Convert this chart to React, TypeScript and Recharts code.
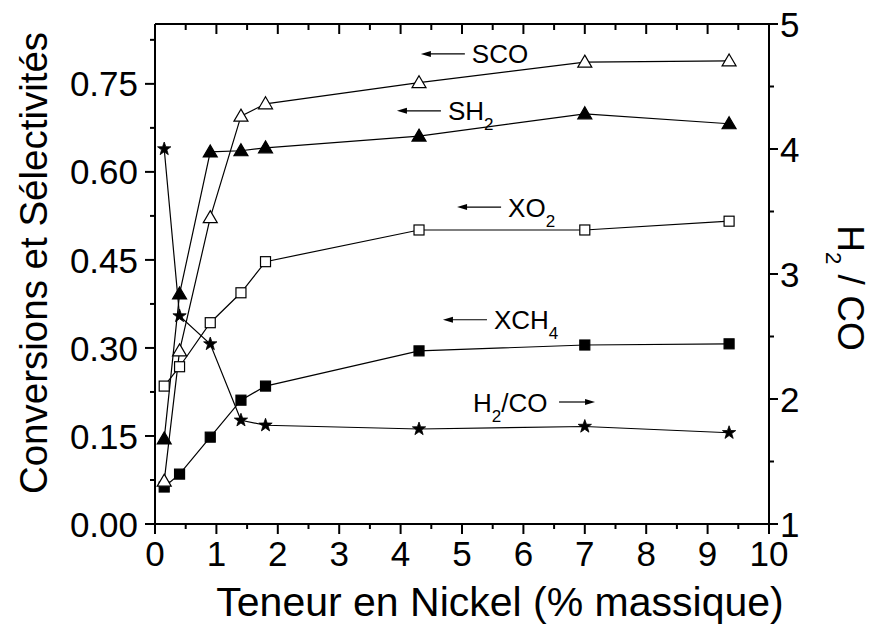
import React from "react";
import { LineChart, Line, XAxis, YAxis, ReferenceDot } from "recharts";

// Teneur en nickel (% massique)
const nickel = [0.15, 0.4, 0.9, 1.4, 1.8, 4.3, 7.0, 9.35];
// left axis series
const sco = [0.073, 0.295, 0.522, 0.695, 0.716, 0.752, 0.787, 0.789];
const sh2 = [0.145, 0.392, 0.634, 0.636, 0.641, 0.661, 0.699, 0.682];
const xo2 = [0.235, 0.268, 0.343, 0.394, 0.447, 0.501, 0.501, 0.516];
const xch4 = [0.063, 0.085, 0.148, 0.211, 0.235, 0.295, 0.305, 0.307];
// right axis series
const h2co = [4.0, 2.664, 2.44, 1.83, 1.79, 1.76, 1.78, 1.73];

const xTicks = [0, 0.5, 1, 1.5, 2, 2.5, 3, 3.5, 4, 4.5, 5, 5.5, 6, 6.5, 7, 7.5, 8, 8.5, 9, 9.5, 10];
const leftTicks = [0, 0.075, 0.15, 0.225, 0.3, 0.375, 0.45, 0.525, 0.6, 0.675, 0.75, 0.825];
const leftMajor = [0, 0.15, 0.3, 0.45, 0.6, 0.75];
const rightTicks = [1, 1.5, 2, 2.5, 3, 3.5, 4, 4.5, 5];

const data = nickel.map((x, i) => ({
  x, sco: sco[i], sh2: sh2[i], xo2: xo2[i], xch4: xch4[i], h2co: h2co[i],
}));

const FONT = '"Liberation Sans", Arial, Helvetica, sans-serif';
const W = 873;
const H = 630;
const PLOT = { left: 155, right: 769, top: 24, bottom: 524 };
const TICK_FONT = 35;

const isMajorLeft = (v: number) => leftMajor.some((m) => Math.abs(m - v) < 1e-9);

function BottomTick(props: any) {
  const { x, payload } = props;
  const v = payload.value;
  const major = Number.isInteger(v);
  return (
    <g>
      <line x1={x} x2={x} y1={PLOT.bottom} y2={PLOT.bottom + (major ? 10 : 5)} stroke="#000" strokeWidth={2} />
      {major && (
        <text x={x} y={566} textAnchor="middle" fontSize={TICK_FONT} fontFamily={FONT} fill="#000">{v}</text>
      )}
    </g>
  );
}

function TopTick(props: any) {
  const { x, payload } = props;
  const major = Number.isInteger(payload.value);
  return <line x1={x} x2={x} y1={PLOT.top} y2={PLOT.top + (major ? 10 : 6)} stroke="#000" strokeWidth={2} />;
}

function LeftTick(props: any) {
  const { y, payload } = props;
  const v = payload.value;
  const major = isMajorLeft(v);
  return (
    <g>
      <line x1={PLOT.left} x2={PLOT.left - (major ? 10 : 5)} y1={y} y2={y} stroke="#000" strokeWidth={2} />
      {major && (
        <text x={PLOT.left - 17} y={y} dy="0.36em" textAnchor="end" fontSize={TICK_FONT} fontFamily={FONT} fill="#000">
          {v.toFixed(2)}
        </text>
      )}
    </g>
  );
}

function RightTick(props: any) {
  const { y, payload } = props;
  const v = payload.value;
  const major = Number.isInteger(v);
  return (
    <g>
      <line x1={PLOT.right} x2={PLOT.right + (major ? 9 : 5)} y1={y} y2={y} stroke="#000" strokeWidth={2} />
      {major && (
        <text x={PLOT.right + 11} y={y} dy="0.36em" textAnchor="start" fontSize={TICK_FONT} fontFamily={FONT} fill="#000">
          {v}
        </text>
      )}
    </g>
  );
}

type Kind = "triUp" | "triUpFill" | "square" | "squareFill" | "star";

function Marker({ cx, cy, kind }: { cx?: number; cy?: number; kind: Kind }) {
  if (cx == null || cy == null) return null;
  const fill = kind === "triUpFill" || kind === "squareFill" || kind === "star" ? "#000" : "#fff";
  if (kind === "triUp" || kind === "triUpFill") {
    const pts = `${cx},${cy - 7} ${cx + 7},${cy + 5} ${cx - 7},${cy + 5}`;
    return <polygon points={pts} fill={fill} stroke="#000" strokeWidth={1.2} />;
  }
  if (kind === "square" || kind === "squareFill") {
    return <rect x={cx - 5} y={cy - 5} width={10} height={10} fill={fill} stroke="#000" strokeWidth={1.2} />;
  }
  const pts: string[] = [];
  for (let k = 0; k < 10; k++) {
    const r = k % 2 === 0 ? 7 : 2.8;
    const a = -Math.PI / 2 + (k * Math.PI) / 5;
    pts.push(`${cx + r * Math.cos(a)},${cy + r * Math.sin(a)}`);
  }
  return <polygon points={pts.join(" ")} fill="#000" stroke="#000" strokeWidth={0.8} />;
}

// annotation labels, anchored in data coordinates
const notes = [
  { x: 4.33, y: 0.801, main: "SCO", sub: "" },
  { x: 3.94, y: 0.704, main: "SH", sub: "2" },
  { x: 4.92, y: 0.54, main: "XO", sub: "2" },
  { x: 4.69, y: 0.348, main: "XCH", sub: "4" },
];

function LeftArrowNote(props: any) {
  const { cx, cy, main, sub } = props;
  if (cx == null || cy == null) return null;
  return (
    <g>
      <line x1={cx + 8} x2={cx + 44} y1={cy} y2={cy} stroke="#000" strokeWidth={1.2} />
      <polygon points={`${cx},${cy} ${cx + 10},${cy - 3} ${cx + 10},${cy + 3}`} fill="#000" />
      <text x={cx + 51} y={cy + 9.5} fontSize={26} fontFamily={FONT} fill="#000">
        <tspan>{main}</tspan>
        {sub && <tspan dy={10} fontSize={17}>{sub}</tspan>}
      </text>
    </g>
  );
}

function H2CONote(props: any) {
  const { cx, cy } = props;
  if (cx == null || cy == null) return null;
  return (
    <g>
      <text x={cx} y={cy + 9.5} fontSize={26} fontFamily={FONT} fill="#000">
        <tspan>H</tspan>
        <tspan dy={10} fontSize={17}>2</tspan>
        <tspan dy={-10}>/CO</tspan>
      </text>
      <line x1={cx + 86} x2={cx + 114} y1={cy} y2={cy} stroke="#000" strokeWidth={1.2} />
      <polygon points={`${cx + 122},${cy} ${cx + 112},${cy - 3} ${cx + 112},${cy + 3}`} fill="#000" />
    </g>
  );
}

export default function App() {
  const lineProps = {
    type: "linear" as const,
    stroke: "#000",
    strokeWidth: 1.2,
    isAnimationActive: false,
    activeDot: false as const,
  };
  return (
    <div style={{ position: "absolute", left: 0, top: 0, width: W, height: H, background: "#fff" }}>
      <LineChart width={W} height={H} data={data} margin={{ top: 0, right: 0, bottom: 0, left: 0 }}>
        <XAxis
          dataKey="x" type="number" domain={[0, 10]} ticks={xTicks} height={H - PLOT.bottom}
          interval={0} tickLine={false} axisLine={{ stroke: "#000", strokeWidth: 2 }} tick={<BottomTick />}
        />
        <XAxis
          xAxisId="top" orientation="top" dataKey="x" type="number" domain={[0, 10]} ticks={xTicks}
          height={PLOT.top} interval={0} tickLine={false} axisLine={{ stroke: "#000", strokeWidth: 2 }} tick={<TopTick />}
        />
        <YAxis
          yAxisId="left" type="number" domain={[0, 0.852]} ticks={leftTicks} width={PLOT.left}
          interval={0} tickLine={false} axisLine={{ stroke: "#000", strokeWidth: 2 }} tick={<LeftTick />}
        />
        <YAxis
          yAxisId="right" orientation="right" type="number" domain={[1, 5]} ticks={rightTicks}
          width={W - PLOT.right} interval={0} tickLine={false} axisLine={{ stroke: "#000", strokeWidth: 2 }}
          tick={<RightTick />}
        />
        <Line {...lineProps} yAxisId="left" dataKey="xch4" dot={(p: any) => <Marker key={p.index} cx={p.cx} cy={p.cy} kind="squareFill" />} />
        <Line {...lineProps} yAxisId="left" dataKey="xo2" dot={(p: any) => <Marker key={p.index} cx={p.cx} cy={p.cy} kind="square" />} />
        <Line {...lineProps} yAxisId="left" dataKey="sh2" dot={(p: any) => <Marker key={p.index} cx={p.cx} cy={p.cy} kind="triUpFill" />} />
        <Line {...lineProps} yAxisId="left" dataKey="sco" dot={(p: any) => <Marker key={p.index} cx={p.cx} cy={p.cy} kind="triUp" />} />
        <Line {...lineProps} yAxisId="right" dataKey="h2co" dot={(p: any) => <Marker key={p.index} cx={p.cx} cy={p.cy} kind="star" />} />
        {notes.map((n) => (
          <ReferenceDot
            key={n.main + n.sub} yAxisId="left" x={n.x} y={n.y} r={0}
            shape={(p: any) => <LeftArrowNote cx={p.cx} cy={p.cy} main={n.main} sub={n.sub} />}
          />
        ))}
        <ReferenceDot yAxisId="right" x={5.18} y={1.976} r={0} shape={(p: any) => <H2CONote cx={p.cx} cy={p.cy} />} />
      </LineChart>
      <svg width={W} height={H} style={{ position: "absolute", left: 0, top: 0, pointerEvents: "none" }}>
        <text transform="translate(47, 263) rotate(-90)" textAnchor="middle" fontSize={38.5} fontFamily={FONT} fill="#000">
          Conversions et Sélectivités
        </text>
        <text x={500} y={616} textAnchor="middle" fontSize={41} fontFamily={FONT} fill="#000">
          Teneur en Nickel (% massique)
        </text>
        <text transform="translate(838, 288) rotate(90)" textAnchor="middle" fontSize={37} fontFamily={FONT} fill="#000">
          <tspan>H</tspan>
          <tspan dy={12} fontSize={22}>2</tspan>
          <tspan dy={-12}> / CO</tspan>
        </text>
      </svg>
    </div>
  );
}
